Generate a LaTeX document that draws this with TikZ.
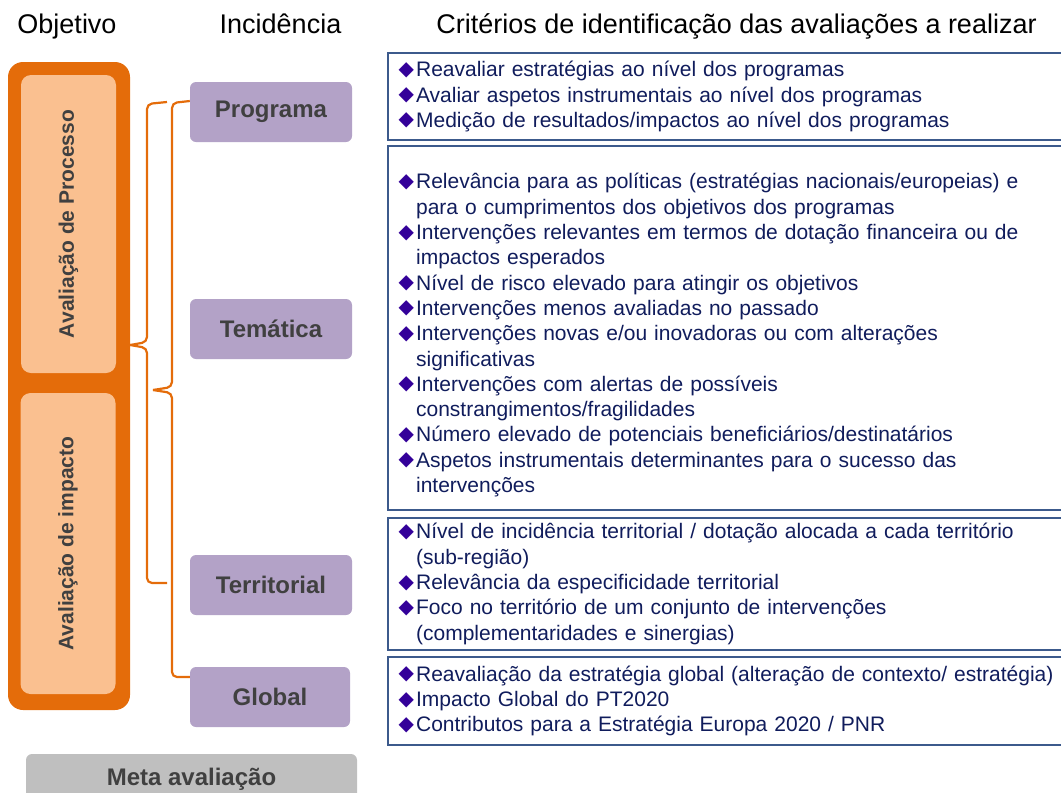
\documentclass[tikz,border=0pt]{standalone}
\usepackage{fontspec}
\setmainfont{Liberation Sans}
\newfontfamily\symfont{DejaVu Sans}
\usepackage{xcolor}
\definecolor{objOrange}{RGB}{228,108,10}
\definecolor{objPeach}{RGB}{250,192,144}
\definecolor{incPurple}{RGB}{179,162,199}
\definecolor{metaGray}{RGB}{191,191,191}
\definecolor{boxText}{RGB}{64,64,64}
\definecolor{critBlue}{RGB}{60,90,140}
\definecolor{critText}{RGB}{16,28,92}
\definecolor{critMark}{RGB}{51,0,153}
\usetikzlibrary{positioning,calc}
\newcommand\critmark{\leavevmode\llap{\raisebox{1.5pt}{\textcolor{critMark}{\symfont\fontsize{20}{20}\selectfont ◆}}\hspace{2pt}}}

\begin{document}
\begin{tikzpicture}[x=1pt,y=-1pt,
  hdr/.style={anchor=base,font=\fontsize{27}{30}\selectfont},
  objframe/.style={fill=objOrange,rounded corners=15pt,minimum width=122pt,minimum height=648pt},
  objbox/.style={fill=objPeach,rounded corners=10pt,rotate=90,text=boxText,
    font=\fontsize{21}{24}\selectfont\bfseries,minimum height=95pt},
  incbox/.style={fill=incPurple,rounded corners=6pt,text=boxText,
    font=\fontsize{24}{28}\selectfont\bfseries,minimum width=162pt,minimum height=60pt},
  critbox/.style={draw=critBlue,line width=2.2pt,anchor=west,text=critText,
    font=\fontsize{21}{25.3}\selectfont,text width=660pt,align=left,inner xsep=28pt,inner ysep=0pt},
  brace/.style={draw=objOrange,line width=2.2pt,rounded corners=5pt}]
  \useasboundingbox (0,0) rectangle (1061,793);

  % headers
  \node[hdr] (hobj) at (67,33) {Objetivo};
  \node[hdr] (hinc) at (280.5,33) {Incidência};
  \node[hdr] (hcrit) at (736.5,33) {Critérios de identificação das avaliações a realizar};

  % objetivo
  \node[objframe] (frame) at (69,386) {};
  \node[objbox,minimum width=298pt] (proc) at (68.5,224) {Avaliação de Processo};
  \node[objbox,minimum width=301pt] (imp) at (68,543.5) {Avaliação de impacto};

  % incidencia
  \node[incbox] (prog) at (271,112) {Programa};
  \node[incbox] (tema) at (271,329) {Temática};
  \node[incbox] (terr) at (271,585) {Territorial};
  \node[incbox,minimum width=160pt] (glob) at (270,697) {Global};

  \node[fill=metaGray,rounded corners=6pt,text=boxText,font=\fontsize{24}{28}\selectfont\bfseries,
    minimum width=331pt,minimum height=50pt] (meta) at (191.5,779) {Meta avaliação};

  % braces
  \coordinate (b1top) at (167,102);
  \coordinate (b1tip) at ($(frame.east)+(0,-41)$);
  \coordinate (b1bot) at (167,583);
  \draw[brace] (b1top) -- (147,104) -- (147,342) -- (b1tip);
  \draw[brace] (b1tip) -- (147,348) -- (147,583) -- (b1bot);
  \coordinate (b2top) at ($(prog.west)+(0,-11)$);
  \coordinate (b2tip) at (153,390);
  \coordinate (b2bot) at ($(glob.west)+(0,-20)$);
  \draw[brace] (b2top) -- (172,103) -- (172,387) -- (b2tip);
  \draw[brace] (b2tip) -- (172,393) -- (172,677) -- (b2bot);

  % criterios
  \node[critbox,minimum height=87pt] (cprog) at (387,96.5) {%
    \critmark Reavaliar estratégias ao nível dos programas\\
    \critmark Avaliar aspetos instrumentais ao nível dos programas\\
    \critmark Medição de resultados/impactos ao nível dos programas};
  \node[critbox,minimum height=364pt] (ctema) at (387,328) {%
    \critmark\rule{0pt}{30pt}Relevância para as políticas (estratégias nacionais/europeias) e\\
    para o cumprimentos dos objetivos dos programas\\
    \critmark Intervenções relevantes em termos de dotação financeira ou de\\
    impactos esperados\\
    \critmark Nível de risco elevado para atingir os objetivos\\
    \critmark Intervenções menos avaliadas no passado\\
    \critmark Intervenções novas e/ou inovadoras ou com alterações\\
    significativas\\
    \critmark Intervenções com alertas de possíveis\\
    constrangimentos/fragilidades\\
    \critmark Número elevado de potenciais beneficiários/destinatários\\
    \critmark Aspetos instrumentais determinantes para o sucesso das\\
    intervenções};
  \node[critbox,minimum height=132pt] (cterr) at (387,584) {%
    \critmark Nível de incidência territorial / dotação alocada a cada território\\
    (sub-região)\\
    \critmark Relevância da especificidade territorial\\
    \critmark Foco no território de um conjunto de intervenções\\
    (complementaridades e sinergias)};
  \node[critbox,minimum height=88pt] (cglob) at (387,701) {%
    \critmark Reavaliação da estratégia global (alteração de contexto/ estratégia)\\
    \critmark Impacto Global do PT2020\\
    \critmark Contributos para a Estratégia Europa 2020 / PNR};
\end{tikzpicture}
\end{document}
